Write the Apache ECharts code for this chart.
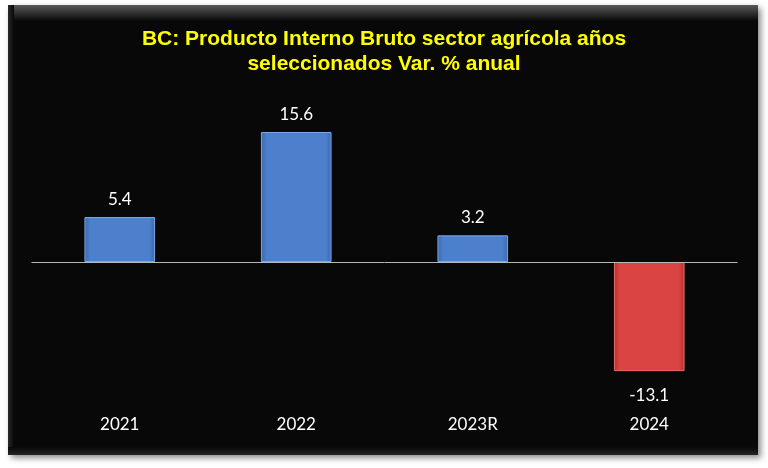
<!DOCTYPE html>
<html><head><meta charset="utf-8">
<script src="https://cdn.jsdelivr.net/npm/echarts@6/dist/echarts.min.js"></script>
<style>html,body{margin:0;padding:0;background:#fff}#c{width:768px;height:468px}</style>
</head><body><div id="c"></div>
<script>
const titleText = 'BC: Producto Interno Bruto sector agrícola años\nseleccionados Var. % anual';
const categories = ['2021', '2022', '2023R', '2024'];
const values = [5.4, 15.6, 3.2, -13.1];

const blue = new echarts.graphic.LinearGradient(0,0,1,0,[
  {offset:0,color:'#3a68ad'},{offset:0.08,color:'#4c80cc'},{offset:0.92,color:'#4c80cc'},{offset:1,color:'#3a68ad'}]);
const red = new echarts.graphic.LinearGradient(0,0,1,0,[
  {offset:0,color:'#b8302e'},{offset:0.08,color:'#da4442'},{offset:0.92,color:'#da4442'},{offset:1,color:'#b8302e'}]);

const data = values.map(v => ({
  value: v,
  itemStyle: { color: v < 0 ? red : blue, borderColor: v < 0 ? '#e86a66' : '#78a6e6', borderWidth: 1 },
  label: { position: v < 0 ? 'bottom' : 'top', distance: v < 0 ? 16 : 9 }
}));

const chart = echarts.init(document.getElementById('c'), null, {renderer:'canvas'});
chart.setOption({
  backgroundColor: '#ffffff',
  animation: false,
  graphic: [
    { type:'rect', z:-10, shape:{x:8,y:5,width:750,height:450},
      style:{fill:'#080808', shadowColor:'rgba(0,0,0,0.45)', shadowBlur:6, shadowOffsetX:3, shadowOffsetY:3}},
    { type:'rect', z:-9, shape:{x:8,y:5,width:750,height:16},
      style:{fill:new echarts.graphic.LinearGradient(0,0,0,1,[{offset:0,color:'#5a5a5a'},{offset:1,color:'#080808'}])}},
    { type:'rect', z:-9, shape:{x:8,y:5,width:6,height:450},
      style:{fill:new echarts.graphic.LinearGradient(0,0,1,0,[{offset:0,color:'#2a2a2a'},{offset:1,color:'#080808'}])}},
    { type:'rect', z:-9, shape:{x:8,y:447,width:750,height:8},
      style:{fill:new echarts.graphic.LinearGradient(0,0,0,1,[{offset:0,color:'#080808'},{offset:1,color:'#262626'}])}}
  ],
  title: {
    text: titleText, left: 'center', top: 22,
    textStyle: { color:'#ffff00', fontFamily:'"Liberation Sans Narrow", "Arial Narrow", sans-serif', fontWeight:'bold', fontSize:21, lineHeight:25 }
  },
  grid: { left: 31.5, right: 30.5, top: 112, bottom: 81, containLabel: false },
  xAxis: {
    type:'category', data: categories,
    axisLine:{show:false, onZero:false}, axisTick:{show:false},
    axisLabel:{ color:'#ffffff', fontFamily:'Lato, "Open Sans", sans-serif', fontSize:17, margin:29 }
  },
  yAxis: { type:'value', min:-15, max:18, show:false, splitLine:{show:false} },
  series: [{
    type:'bar', data: data, barWidth:'40%',
    label:{ show:true, color:'#ffffff', fontFamily:'Lato, "Open Sans", sans-serif', fontSize:17 },
    markLine: { silent:true, symbol:'none', label:{show:false},
      lineStyle:{color:'#b8b8b8', width:1, type:'solid'}, data:[{yAxis:0}] }
  }]
});
</script></body></html>
